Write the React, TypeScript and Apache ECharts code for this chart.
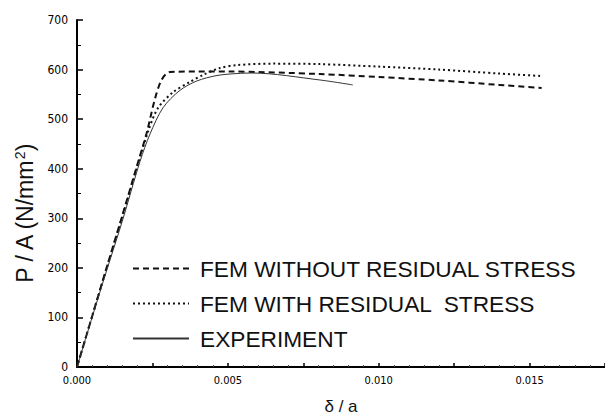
import React, { useEffect, useRef } from "react";
import * as echarts from "echarts";

const seriesNames = [
  "FEM WITHOUT RESIDUAL STRESS",
  "FEM WITH RESIDUAL  STRESS",
  "EXPERIMENT",
];

const femNoResX = [0, 0.0005, 0.001, 0.0015, 0.00192, 0.0023, 0.00258, 0.00281, 0.00308, 0.004, 0.005, 0.00805, 0.010, 0.012, 0.014, 0.0154];
const femNoResY = [0, 102, 204, 305, 392, 470, 540, 580, 595, 596, 596, 591, 585, 578, 569, 563];

const femResX = [0, 0.0005, 0.001, 0.0015, 0.002, 0.00235, 0.00268, 0.00318, 0.00374, 0.00417, 0.00473, 0.0053, 0.0065, 0.00805, 0.010, 0.012, 0.014, 0.0154];
const femResY = [0, 102, 203, 303, 405, 474, 522, 554, 575, 589, 603, 609, 612, 611, 606, 600, 592, 587];

const expX = [0, 0.0005, 0.001, 0.0015, 0.00209, 0.00242, 0.00285, 0.00341, 0.00397, 0.00464, 0.0053, 0.00583, 0.00805, 0.00914];
const expY = [0, 100, 198, 294, 415, 470, 523, 558, 577, 588, 592, 593, 579, 569];

const pairs = (xs: number[], ys: number[]) => xs.map((x, i) => [x, ys[i]]);

const FONT = "'Liberation Sans', Arial, sans-serif";
const NARROW = "'Liberation Sans Narrow', 'DejaVu Sans Condensed', 'Liberation Sans', sans-serif";

export default function App() {
  const ref = useRef<HTMLDivElement>(null);
  useEffect(() => {
    if (!ref.current) return;
    const chart = echarts.init(ref.current, null, { renderer: "svg" });
    chart.setOption({
      animation: false,
      backgroundColor: "#fff",
      grid: { left: 77, right: 0, top: 20, bottom: 48, containLabel: false, outerBoundsMode: "none" },
      graphic: [
        {
          type: "text",
          x: 25,
          y: 214,
          rotation: Math.PI / 2,
          style: {
            text: "{a|P / A (N/mm}{s|2}{a|)}",
            align: "center",
            verticalAlign: "middle",
            rich: {
              a: { fontFamily: FONT, fontSize: 23, fill: "#111" },
              s: { fontFamily: FONT, fontSize: 14, fill: "#111", verticalAlign: "top", padding: [0, 0, 10, 0] },
            },
          },
        },
      ],
      legend: {
        orient: "vertical",
        left: 132,
        top: 257,
        padding: 0,
        itemWidth: 56,
        itemHeight: 14,
        itemGap: 12,
        itemStyle: { opacity: 0 },
        textStyle: {
          fontFamily: FONT,
          fontSize: 22.7,
          color: "#111",
          padding: [0, 0, 0, 6],
        },
        data: seriesNames,
      },
      xAxis: {
        type: "value",
        min: 0,
        max: 0.0175,
        interval: 0.0025,
        name: "δ / a",
        nameLocation: "middle",
        nameGap: 31,
        nameTextStyle: { fontFamily: FONT, fontSize: 17, color: "#111" },
        axisLine: { onZero: false, lineStyle: { color: "#000", width: 2 } },
        axisTick: { inside: true, length: 4, lineStyle: { color: "#000", width: 1.5 } },
        minorTick: { show: true, splitNumber: 5, length: 2, lineStyle: { color: "#444" } },
        splitLine: { show: false },
        axisLabel: {
          fontFamily: NARROW,
          fontSize: 11,
          color: "#000",
          margin: 8,
          formatter: (v: number) => {
            const k = Math.round(v / 0.005);
            return Math.abs(v - k * 0.005) < 1e-9 && v < 0.017 ? v.toFixed(3) : "";
          },
        },
      },
      yAxis: {
        type: "value",
        min: 0,
        max: 700,
        interval: 100,
        axisLine: { show: true, lineStyle: { color: "#000", width: 2 } },
        axisTick: { inside: true, length: 6, lineStyle: { color: "#000", width: 1.5 } },
        minorTick: { show: true, splitNumber: 2, length: 4, lineStyle: { color: "#000" } },
        splitLine: { show: false },
        axisLabel: { fontFamily: NARROW, fontSize: 12, color: "#000", margin: 9 },
      },
      series: [
        {
          name: seriesNames[0],
          type: "line",
          symbol: "none",
          smooth: 0.3,
          data: pairs(femNoResX, femNoResY),
          lineStyle: { color: "#111", width: 2, type: [6, 4] },
          itemStyle: { color: "#111" },
        },
        {
          name: seriesNames[1],
          type: "line",
          symbol: "none",
          smooth: 0.3,
          data: pairs(femResX, femResY),
          lineStyle: { color: "#111", width: 2, type: [2, 3] },
          itemStyle: { color: "#111" },
        },
        {
          name: seriesNames[2],
          type: "line",
          symbol: "none",
          smooth: 0.3,
          data: pairs(expX, expY),
          lineStyle: { color: "#333", width: 1 },
          itemStyle: { color: "#333" },
        },
      ],
    });
    return () => chart.dispose();
  }, []);
  return <div ref={ref} style={{ width: 605, height: 415, position: "absolute", left: 0, top: 0 }} />;
}
